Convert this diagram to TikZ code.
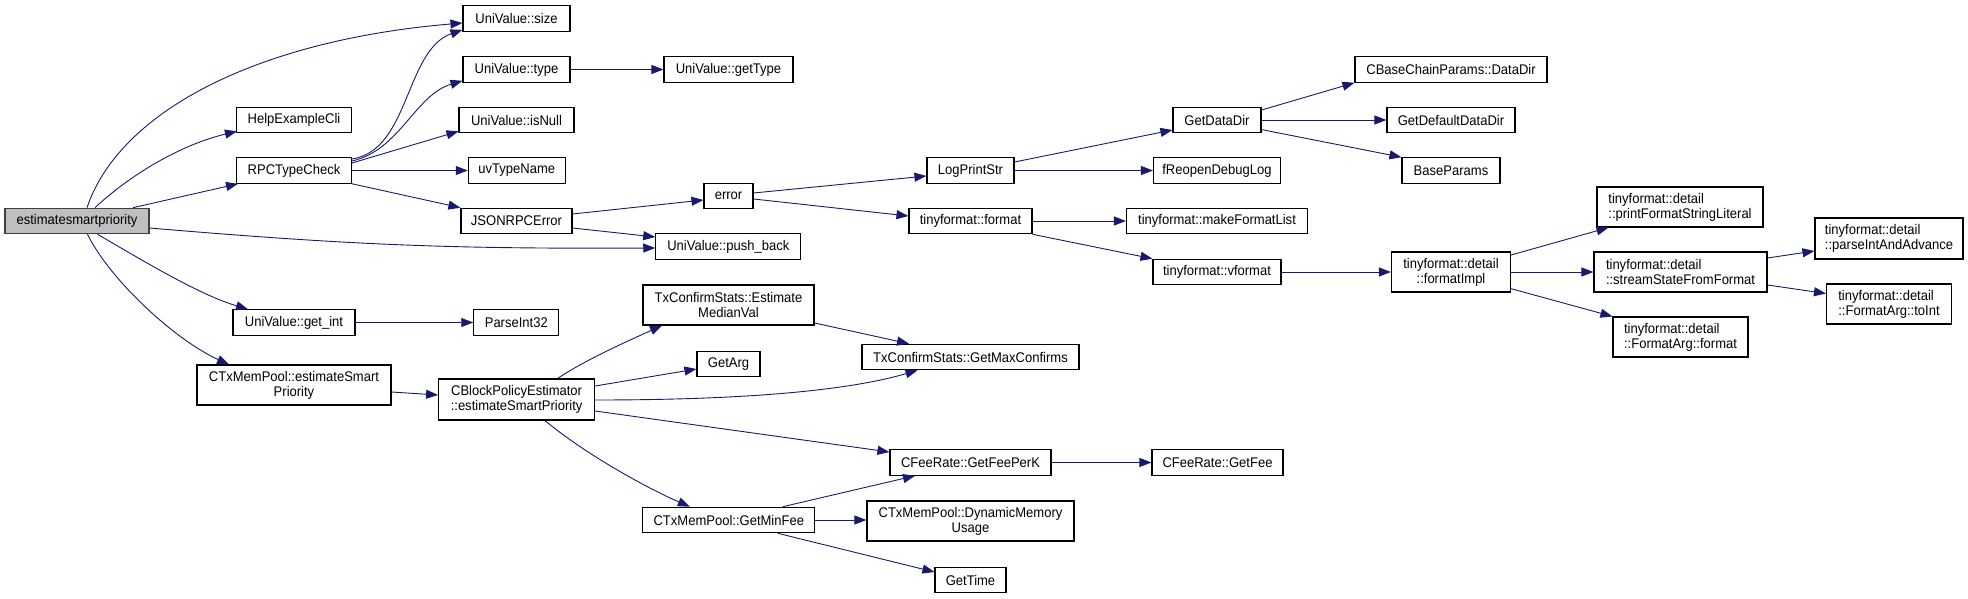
\documentclass[tikz,border=0pt]{standalone}
\usepackage{fontspec}
\setmainfont{Liberation Sans}[FakeStretch=0.93]
\usepackage{xcolor}
\usepackage{tikz}
\usetikzlibrary{arrows.meta}
\definecolor{edgeblue}{RGB}{25,25,112}

\begin{document}
\begin{tikzpicture}[x=1pt, y=-1pt,
    box/.style={draw=black, line width=1.1pt, fill=white, inner sep=0pt, minimum height=25.5pt, font=\fontsize{14}{15}\selectfont, align=center},
    box2/.style={box, minimum height=40pt},
    rootbox/.style={box, fill=black!25, draw=black!75},
    call/.style={-{Triangle[length=12pt,width=9pt]}, edgeblue, line width=0.9pt}
  ]
  \useasboundingbox (0,0) rectangle (1968,599);
  % Root
  \node[rootbox, minimum width=144pt] (E) at (77,221) {estimatesmartpriority};
  % Column 2
  \node[box, minimum width=115pt] (help) at (294,120) {HelpExampleCli};
  \node[box, minimum width=115pt] (rpc) at (294,170.5) {RPCTypeCheck};
  \node[box, minimum width=122pt] (getint) at (294,322.5) {UniValue::get\_int};
  \node[box2, minimum width=194pt] (poolest) at (294,385) {CTxMemPool::estimateSmart\\Priority};
  % Column 3
  \node[box, minimum width=107pt] (size) at (516.5,18.5) {UniValue::size};
  \node[box, minimum width=107pt] (type) at (516.5,69.5) {UniValue::type};
  \node[box, minimum width=115pt] (isnull) at (516.5,120) {UniValue::isNull};
  \node[box, minimum width=97pt] (uvtn) at (516.8,170.5) {uvTypeName};
  \node[box, minimum width=111pt] (jsonerr) at (516.5,221) {JSONRPCError};
  \node[box, minimum width=85pt] (parseint32) at (516.3,322.5) {ParseInt32};
  \node[box2, minimum width=156pt, minimum height=41pt] (blockest) at (516.6,399.5) {CBlockPolicyEstimator\\::estimateSmartPriority};
  % Column 4
  \node[box, minimum width=129pt] (gettype) at (728.5,69.5) {UniValue::getType};
  \node[box, minimum width=49pt] (error) at (728.5,196) {error};
  \node[box, minimum width=145pt] (pushback) at (728.3,246.5) {UniValue::push\_back};
  \node[box2, minimum width=171pt] (medianval) at (728.5,305) {TxConfirmStats::Estimate\\MedianVal};
  \node[box, minimum width=63pt] (getarg) at (728.5,364) {GetArg};
  \node[box, minimum width=172pt] (minfee) at (728.8,520) {CTxMemPool::GetMinFee};
  % Column 5
  \node[box, minimum width=87pt] (logprint) at (970.5,170.5) {LogPrintStr};
  \node[box, minimum width=123pt] (tfformat) at (970.5,221) {tinyformat::format};
  \node[box, minimum width=217pt] (maxconf) at (970.5,357) {TxConfirmStats::GetMaxConfirms};
  \node[box, minimum width=161pt] (feeperk) at (970.5,462.5) {CFeeRate::GetFeePerK};
  \node[box2, minimum width=207pt] (dynmem) at (970.5,521) {CTxMemPool::DynamicMemory\\Usage};
  \node[box, minimum width=71pt] (gettime) at (970.5,580) {GetTime};
  % Column 6
  \node[box, minimum width=88pt] (getdatadir) at (1217,120) {GetDataDir};
  \node[box, minimum width=127pt] (freopen) at (1217,170.5) {fReopenDebugLog};
  \node[box, minimum width=181pt] (mkfmt) at (1217,221) {tinyformat::makeFormatList};
  \node[box, minimum width=128pt] (vformat) at (1217,272) {tinyformat::vformat};
  \node[box, minimum width=131pt] (getfee) at (1217.5,462.5) {CFeeRate::GetFee};
  % Column 7
  \node[box, minimum width=192pt] (datadir) at (1451,69.5) {CBaseChainParams::DataDir};
  \node[box, minimum width=128pt] (defdatadir) at (1451,120) {GetDefaultDataDir};
  \node[box, minimum width=98pt] (baseparams) at (1451,170.5) {BaseParams};
  \node[box2, minimum width=119pt] (formatimpl) at (1451,272) {tinyformat::detail\\::formatImpl};
  % Column 8
  \node[box2, minimum width=166pt, align=left] (printlit) at (1680,207) {tinyformat::detail\\::printFormatStringLiteral};
  \node[box2, minimum width=173pt, align=left] (streamstate) at (1680.5,272) {tinyformat::detail\\::streamStateFromFormat};
  \node[box2, minimum width=135pt, align=left] (fmtarg) at (1680.5,337) {tinyformat::detail\\::FormatArg::format};
  % Column 9
  \node[box2, minimum width=148pt, minimum height=41pt, align=left] (parseint) at (1889,238.5) {tinyformat::detail\\::parseIntAndAdvance};
  \node[box2, minimum width=125pt, align=left] (toint) at (1889,304) {tinyformat::detail\\::FormatArg::toInt};

  % calls from estimatesmartpriority
  \draw[call] ([xshift=10pt]E.north) .. controls (120,110) and (260,40) .. ([yshift=-4.5pt]size.west);
  \draw[call] ([xshift=18pt]E.north) .. controls (130,175) and (180,145) .. ([xshift=1pt,yshift=2pt]help.south west);
  \draw[call] ([xshift=56pt]E.north) -- ([xshift=-56pt]rpc.south);
  \draw[call] ([yshift=-7pt]E.east) .. controls (350,245) and (450,249) .. ([yshift=-1.5pt]pushback.west);
  \draw[call] ([xshift=20.6pt]E.south) .. controls (145,262) and (200,295) .. ([xshift=-46pt]getint.north);
  \draw[call] ([xshift=10.5pt]E.south) .. controls (110,280) and (175,340) .. ([xshift=-65pt]poolest.north);
  % RPCTypeCheck
  \draw[call] ([yshift=11.5pt]rpc.east) .. controls (410,150) and (405,50) .. ([yshift=2pt]size.south west);
  \draw[call] ([yshift=9.5pt]rpc.east) .. controls (400,150) and (415,95) .. ([yshift=2pt]type.south west);
  \draw[call] ([yshift=7.5pt]rpc.east) -- ([yshift=2pt]isnull.south west);
  \draw[call] (rpc.east) -- (uvtn.west);
  \draw[call] (rpc.south east) -- (jsonerr.north west);
  \draw[call] (type.east) -- (gettype.west);
  % JSONRPCError and error
  \draw[call] ([yshift=7pt]jsonerr.east) -- ([yshift=-4pt]error.west);
  \draw[call] ([yshift=-7pt]jsonerr.east) -- ([yshift=9.5pt]pushback.west);
  \draw[call] ([yshift=3pt]error.east) -- ([yshift=-5.5pt]logprint.west);
  \draw[call] ([yshift=-3pt]error.east) -- ([yshift=5pt]tfformat.west);
  % LogPrintStr
  \draw[call] ([yshift=8.5pt]logprint.east) -- ([yshift=-10pt]getdatadir.west);
  \draw[call] (logprint.east) -- (freopen.west);
  \draw[call] ([yshift=10pt]getdatadir.east) -- (datadir.south west);
  \draw[call] (getdatadir.east) -- (defdatadir.west);
  \draw[call] ([yshift=-9.6pt]getdatadir.east) -- (baseparams.north west);
  % tinyformat
  \draw[call] (tfformat.east) -- (mkfmt.west);
  \draw[call] (tfformat.south east) -- (vformat.north west);
  \draw[call] (vformat.east) -- (formatimpl.west);
  \draw[call] ([yshift=17pt]formatimpl.east) -- ([xshift=12pt]printlit.south west);
  \draw[call] (formatimpl.east) -- (streamstate.west);
  \draw[call] ([yshift=-16.7pt]formatimpl.east) -- (fmtarg.north west);
  \draw[call] ([yshift=14pt]streamstate.east) -- ([yshift=-12.5pt]parseint.west);
  \draw[call] ([yshift=-13pt]streamstate.east) -- ([yshift=10.5pt]toint.west);
  % get_int and estimateSmartPriority
  \draw[call] (getint.east) -- (parseint32.west);
  \draw[call] ([yshift=-7pt]poolest.east) -- ([yshift=4.5pt]blockest.west);
  \draw[call] ([xshift=41pt]blockest.north) .. controls (585,360) and (630,340) .. ([xshift=-66.5pt]medianval.south);
  \draw[call] ([yshift=13.5pt]blockest.east) -- ([yshift=-5pt]getarg.west);
  \draw[call] ([yshift=-0.5pt]blockest.east) .. controls (750,400) and (850,390) .. ([xshift=-53pt]maxconf.south);
  \draw[call] ([yshift=-18pt]medianval.east) -- ([xshift=-61.5pt]maxconf.north);
  \draw[call] ([yshift=-11.5pt]blockest.east) -- ([yshift=10.5pt]feeperk.west);
  \draw[call] ([xshift=28.4pt]blockest.south) .. controls (580,450) and (640,485) .. ([xshift=-39pt]minfee.north);
  % GetMinFee
  \draw[call] ([xshift=54pt]minfee.north) -- ([xshift=-55.5pt]feeperk.south);
  \draw[call] (minfee.east) -- (dynmem.west |- minfee.east);
  \draw[call] ([xshift=49pt]minfee.south) -- ([yshift=8pt]gettime.west);
  \draw[call] (feeperk.east) -- (getfee.west);
\end{tikzpicture}
\end{document}
